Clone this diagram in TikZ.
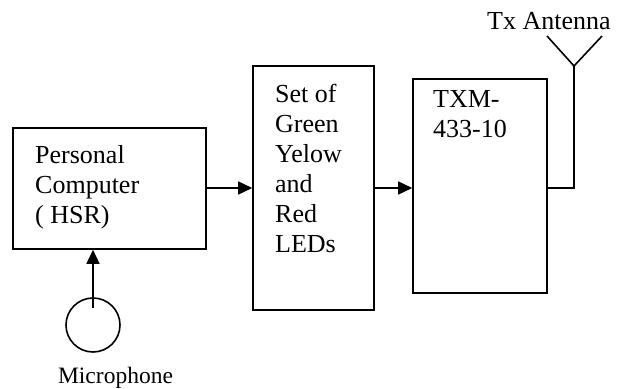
\documentclass[tikz,border=0pt]{standalone}
\usepackage{fontspec}
\setmainfont{Liberation Serif}
\usetikzlibrary{arrows.meta}
\begin{document}
\begin{tikzpicture}[x=1pt,y=-1pt,
  blk/.style={draw,line width=1.6pt,inner sep=0pt},
  lbl/.style={inner sep=0pt,align=left,anchor=base west,font=\fontsize{26}{30}\selectfont},
  conn/.style={line width=1.6pt},
  arr/.style={conn,-{Triangle[length=14pt,width=13pt]}}]
\useasboundingbox (0,0) rectangle (620,388);
\node[blk,minimum width=193pt,minimum height=121pt] (pc) at (109.5,188.5) {};
\node[blk,minimum width=121pt,minimum height=244pt] (led) at (313.5,188) {};
\node[blk,minimum width=134pt,minimum height=214pt] (txm) at (480,186) {};
\node[lbl] (pct) at (35,223) {Personal\\Computer\\( HSR)};
\node[lbl] (ledt) at (275,252) {Set of\\Green\\Yelow\\and\\Red\\LEDs};
\node[lbl] (txmt) at (433,137) {TXM-\\433-10};
\node[lbl] (ant) at (487,29) {Tx Antenna};
\node[draw,circle,line width=1.6pt,minimum size=54pt,inner sep=0pt] (mic) at (93,325) {};
\node[lbl,anchor=base,font=\fontsize{23.5}{28}\selectfont] (mict) at (115.5,383) {Microphone};
\coordinate (feed) at (574,188);
\coordinate (apex) at (574,66);
\coordinate (al) at (547,36);
\coordinate (ar) at (602,36);
\coordinate (mictop) at (93,308);
\draw[arr] (pc.east |- feed) -- (led.west |- feed);
\draw[arr] (led.east |- feed) -- (txm.west |- feed);
\draw[arr] (mictop) -- (mictop |- pc.south);
\draw[conn] (txm.east |- feed) -- (feed) -- (apex);
\draw[conn] (al) -- (apex) -- (ar);
\end{tikzpicture}
\end{document}
